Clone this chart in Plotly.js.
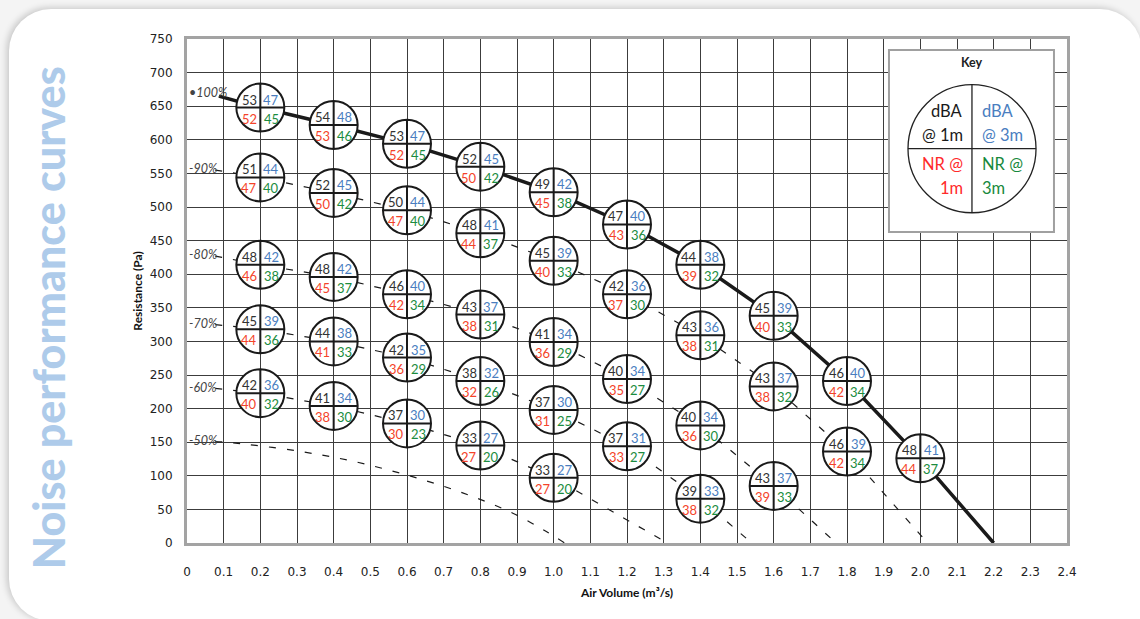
<!DOCTYPE html>
<html><head><meta charset="utf-8">
<script src="https://cdn.plot.ly/plotly-3.0.1.min.js"></script>
<style>
html,body{margin:0;padding:0;width:1140px;height:619px;overflow:hidden;background:#f4f4f4;}
#card{position:absolute;left:9px;top:9px;width:1133px;height:612px;background:#fff;border-radius:42px 42px 0 42px;box-shadow:-2px -1px 7px rgba(0,0,0,0.20);}
#chart{position:absolute;left:0;top:0;width:1140px;height:619px;}
</style></head><body><div id="card"></div><div id="chart"></div>
<script>
// ---------- data ----------
const xTickLabels = ['0','0.1','0.2','0.3','0.4','0.5','0.6','0.7','0.8','0.9','1.0','1.1','1.2','1.3','1.4','1.5','1.6','1.7','1.8','1.9','2.0','2.1','2.2','2.3','2.4'];
const yTickLabels = ['0','50','100','150','200','250','300','350','400','450','500','550','600','650','700','750'];

const speedLabels        = ['100%', '90%', '80%', '70%', '60%', '50%'];
const labelText          = ['\u2022100%', '-90%', '-80%', '-70%', '-60%', '-50%'];
const labelPressure      = [671, 558, 429, 326, 232, 152];
const curveStartFlow     = [0.087, 0.077, 0.077, 0.077, 0.077, 0.077];
const curveStartPressure = [665, 555, 427, 325, 230, 151];
const curveEndFlow       = [2.2, 2.02, 1.77, 1.54, 1.31, 1.03];

// 50% speed curve (no noise points on it)
const curve50Flow     = [0.126, 0.3, 0.45, 0.6, 0.75, 0.89, 0.98];
const curve50Pressure = [149, 137, 122, 101, 75, 44, 17];

// noise points
const circleSpeed    = ['100%','100%','100%','100%','100%','100%','100%','100%','100%','100%',
                        '90%','90%','90%','90%','90%','90%','90%','90%','90%',
                        '80%','80%','80%','80%','80%','80%','80%','80%',
                        '70%','70%','70%','70%','70%','70%','70%',
                        '60%','60%','60%','60%','60%'];
const circleFlow     = [0.2,0.4,0.6,0.8,1.0,1.2,1.4,1.6,1.8,2.0,
                        0.2,0.4,0.6,0.8,1.0,1.2,1.4,1.6,1.8,
                        0.2,0.4,0.6,0.8,1.0,1.2,1.4,1.6,
                        0.2,0.4,0.6,0.8,1.0,1.2,1.4,
                        0.2,0.4,0.6,0.8,1.0];
const circlePressure = [648,622,594,560,522,474,414,338,241,126,
                        544,521,495,461,420,370,309,233,136,
                        414,396,370,340,299,244,175,85,
                        318,300,276,241,198,144,66,
                        223,204,178,145,97];
const dba1m = [53,54,53,52,49,47,44,45,46,48,
               51,52,50,48,45,42,43,43,46,
               48,48,46,43,41,40,40,43,
               45,44,42,38,37,37,39,
               42,41,37,33,33];
const dba3m = [47,48,47,45,42,40,38,39,40,41,
               44,45,44,41,39,36,36,37,39,
               42,42,40,37,34,34,34,37,
               39,38,35,32,30,31,33,
               36,34,30,27,27];
const nr1m  = [52,53,52,50,45,43,39,40,42,44,
               47,50,47,44,40,37,38,38,42,
               46,45,42,38,36,35,36,39,
               44,41,36,32,31,33,38,
               40,38,30,27,27];
const nr3m  = [45,46,45,42,38,36,32,33,34,37,
               40,42,40,37,33,30,31,32,34,
               38,37,34,31,29,27,30,33,
               36,33,29,26,25,27,32,
               32,30,23,20,20];

// ---------- styling ----------
const C_DBA1 = '#333333', C_DBA3 = '#4a7ebf', C_NR1 = '#f4432a', C_NR3 = '#1b8c40';
const numFont = 'Lato, "Open Sans", sans-serif';

// ---------- traces ----------
const traces = [];
speedLabels.forEach((s, k) => {
  const idx = circleFlow.map((_, i) => i).filter(i => circleSpeed[i] === s)
                        .sort((a, b) => circleFlow[a] - circleFlow[b]);
  let xs = [curveStartFlow[k]].concat(idx.map(i => circleFlow[i]));
  let ys = [curveStartPressure[k]].concat(idx.map(i => circlePressure[i]));
  if (s === '50%') { xs = xs.concat(curve50Flow); ys = ys.concat(curve50Pressure); }
  xs.push(curveEndFlow[k]); ys.push(0);
  const full = s === '100%';
  traces.push({
    type: 'scatter', mode: 'lines', x: xs, y: ys, name: s, hoverinfo: 'skip',
    line: full ? {color: '#1a1a1a', width: 3.5}
               : {color: '#1a1a1a', width: 1.2, dash: '7px,11px', shape: s === '50%' ? 'spline' : 'linear'}
  });
});
traces.push({
  type: 'scatter', mode: 'markers', x: circleFlow, y: circlePressure, hoverinfo: 'skip',
  marker: {symbol: 'circle-cross', size: 48, color: '#ffffff', line: {color: '#1a1a1a', width: 2}}
});

// ---------- annotations ----------
const ann = [];
circleFlow.forEach((q, i) => {
  const p = circlePressure[i];
  [[dba1m, C_DBA1, -11, 8], [dba3m, C_DBA3, 11, 8], [nr1m, C_NR1, -11, -11], [nr3m, C_NR3, 11, -11]]
    .forEach(([arr, col, dx, dy]) => ann.push({
      x: q, y: p, xref: 'x', yref: 'y', xanchor: 'center', yanchor: 'middle',
      text: String(arr[i]), showarrow: false,
      xshift: dx, yshift: dy, font: {family: numFont, size: 13, color: col}
    }));
});
speedLabels.forEach((s, k) => ann.push({
  x: 0, y: labelPressure[k], xref: 'x', yref: 'y', xanchor: 'left', yanchor: 'middle',
  text: '<i>' + labelText[k] + '</i>',
  showarrow: false, xshift: 0, font: {family: 'Lato, sans-serif', size: 12.5, color: '#444'}
}));
// key
const keyFont = 'Lato, "Open Sans", sans-serif';
ann.push({x: 0.892, y: 0.954, xref: 'paper', yref: 'paper', xanchor: 'center', yanchor: 'middle',
          text: '<b>Key</b>', showarrow: false, font: {family: keyFont, size: 12.5, color: '#222'}});
[['dBA', 0.8841, 0.8577, 'right', '#1a1a1a'], ['@ 1m', 0.8841, 0.8095, 'right', '#1a1a1a'],
 ['dBA', 0.9011, 0.8577, 'left', '#4a7ebf'], ['@ 3m', 0.9011, 0.8095, 'left', '#4a7ebf'],
 ['NR @', 0.8841, 0.752, 'right', '#ff2a2a'], ['1m', 0.8841, 0.7038, 'right', '#ff2a2a'],
 ['NR @', 0.9011, 0.752, 'left', '#17893c'], ['3m', 0.9011, 0.7038, 'left', '#17893c']]
 .forEach(([t, x, y, xa, c]) => ann.push({x: x, y: y, xref: 'paper', yref: 'paper', xanchor: xa,
   yanchor: 'middle', text: t, showarrow: false, font: {family: keyFont, size: 16.5, color: c}}));
// side title
ann.push({x: -0.158, y: 0.448, xref: 'paper', yref: 'paper', xanchor: 'center', yanchor: 'middle',
          text: 'Noise performance curves', textangle: -90, showarrow: false,
          font: {family: 'Lato, sans-serif', size: 43, weight: 900, color: '#aecbea'}});

const shapes = [
  {type: 'rect', xref: 'paper', yref: 'paper', x0: 0.7977, x1: 0.9852, y0: 0.617, y1: 0.978,
   fillcolor: '#ffffff', line: {color: '#a0a0a0', width: 2}},
  {type: 'circle', xref: 'paper', yref: 'paper', x0: 0.8193, x1: 0.9648, y0: 0.6553, y1: 0.9093,
   line: {color: '#222', width: 1.3}},
  {type: 'line', xref: 'paper', yref: 'paper', x0: 0.892, x1: 0.892, y0: 0.6553, y1: 0.9093,
   line: {color: '#222', width: 1.3}},
  {type: 'line', xref: 'paper', yref: 'paper', x0: 0.8193, x1: 0.9648, y0: 0.7823, y1: 0.7823,
   line: {color: '#222', width: 1.3}}
];

const layout = {
  width: 1140, height: 619,
  margin: {l: 187, r: 73, t: 39, b: 76},
  paper_bgcolor: 'rgba(0,0,0,0)', plot_bgcolor: '#ffffff',
  showlegend: false,
  font: {family: '"DejaVu Sans", Verdana, sans-serif', size: 12, color: '#222'},
  xaxis: {
    range: [0, 2.4], tickvals: xTickLabels.map(Number), ticktext: xTickLabels,
    showgrid: true, gridcolor: '#3c3c3c', gridwidth: 1, zeroline: false,
    showline: true, mirror: true, linecolor: '#a3a3a3', linewidth: 3,
    ticks: '', ticklabelstandoff: 16, tickfont: {size: 12, color: '#222'},
    title: {text: '<b>Air Volume (m\u00b3/s)</b>', standoff: 11,
            font: {family: 'Lato, sans-serif', size: 12, color: '#111'}}
  },
  yaxis: {
    range: [0, 750], tickvals: yTickLabels.map(Number), ticktext: yTickLabels,
    showgrid: true, gridcolor: '#3c3c3c', gridwidth: 1, zeroline: false,
    showline: true, mirror: true, linecolor: '#a3a3a3', linewidth: 3,
    ticks: '', ticklabelstandoff: 9, tickfont: {size: 12, color: '#222'},
    title: {text: '<b>Resistance (Pa)</b>', standoff: 5,
            font: {family: 'Lato, sans-serif', size: 12, color: '#111'}}
  },
  annotations: ann, shapes: shapes
};

Plotly.newPlot('chart', traces, layout, {staticPlot: true, displayModeBar: false});
</script></body></html>
